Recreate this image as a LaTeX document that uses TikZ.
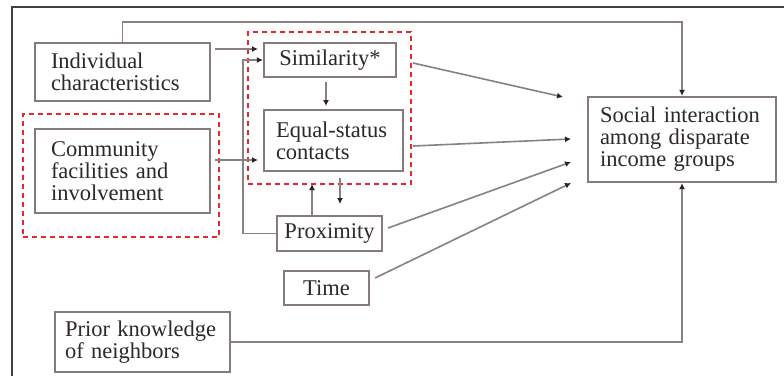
\documentclass[tikz,border=0pt]{standalone}
\usepackage{fontspec}
\setmainfont{Liberation Serif}
\usetikzlibrary{arrows.meta}
\definecolor{boxgray}{HTML}{857B7B}
\definecolor{linegray}{HTML}{8A8080}
\definecolor{tipc}{HTML}{2A2424}
\definecolor{txt}{HTML}{2E2828}
\definecolor{dashred}{HTML}{E6282C}
\definecolor{framegray}{HTML}{404040}
\tikzset{
  box/.style={draw=boxgray, line width=2.2pt, fill=white, text=txt,
    font=\fontsize{22.5}{22}\selectfont, inner sep=0pt},
  redbox/.style={draw=dashred, line width=1.1pt, dash pattern=on 5pt off 4pt, inner sep=0pt},
  conn/.style={draw=linegray, line width=1.6pt},
  arr/.style={conn, -{Latex[length=6pt,width=6pt,color=tipc]}},
}
\begin{document}
\begin{tikzpicture}[x=1pt,y=-1pt]
\useasboundingbox (0,0) rectangle (784,376);
\fill[white] (0,0) rectangle (784,376);
% outer frame
\draw[framegray, line width=1.5pt] (12,376) -- (12,7) -- (784,7);
% dashed groups
\node[redbox, minimum width=196, minimum height=123] (grpB) at (121,175.5) {};
\node[redbox, minimum width=163, minimum height=152] (grpA) at (329.5,108) {};
% boxes
\node[box, minimum width=175, minimum height=58, text width=143, align=left] (ind) at (122.5,72) {Individual\\characteristics};
\node[box, minimum width=175, minimum height=84, text width=143, align=left] (com) at (122.5,171) {Community\\facilities and\\involvement};
\node[box, minimum width=132, minimum height=34] (sim) at (330,60) {Similarity*};
\node[box, minimum width=139, minimum height=61, text width=115, align=left] (eq) at (333.5,140.5) {Equal-status\\contacts};
\node[box, minimum width=105, minimum height=35] (prox) at (329.5,233.5) {Proximity};
\node[box, minimum width=85, minimum height=34] (time) at (326.5,288) {Time};
\node[box, minimum width=175, minimum height=60, text width=155, align=left] (prior) at (142.5,342) {Prior knowledge\\of neighbors};
\node[box, minimum width=188, minimum height=85, text width=164, align=left] (soc) at (682,139.5) {Social interaction\\among disparate\\income groups};
% coordinates
\coordinate (top) at (122.5,22);
\coordinate (indS) at (215,49);
\coordinate (indE) at (258,49);
\coordinate (comS) at (215,160);
\coordinate (comE) at (258,160);
\coordinate (bend) at (243,60);
\coordinate (simS) at (326,82);
\coordinate (simE) at (326,106);
\coordinate (upS) at (312,216);
\coordinate (upE) at (312,184);
\coordinate (dnS) at (340,178);
\coordinate (dnE) at (340,204);
\coordinate (g1) at (413,63);
\coordinate (t1) at (563,97);
\coordinate (g2) at (413,146);
\coordinate (t2) at (571,139);
\coordinate (p1) at (388,228);
\coordinate (t3) at (571,162);
\coordinate (m1) at (375,278);
\coordinate (t4) at (571,183);
% connectors
\draw[arr] (ind.north) -- (top) -| (soc.north);
\draw[arr] (indS) -- (indE);
\draw[arr] (comS) -- (comE);
\draw[arr] (prox.west) -| (bend) -- (sim.west);
\draw[arr] (simS) -- (simE);
\draw[arr] (upS) -- (upE);
\draw[arr] (dnS) -- (dnE);
\draw[arr] (g1) -- (t1);
\draw[arr] (g2) -- (t2);
\draw[arr] (p1) -- (t3);
\draw[arr] (m1) -- (t4);
\draw[arr] (prior.east) -| (soc.south);
\end{tikzpicture}
\end{document}
